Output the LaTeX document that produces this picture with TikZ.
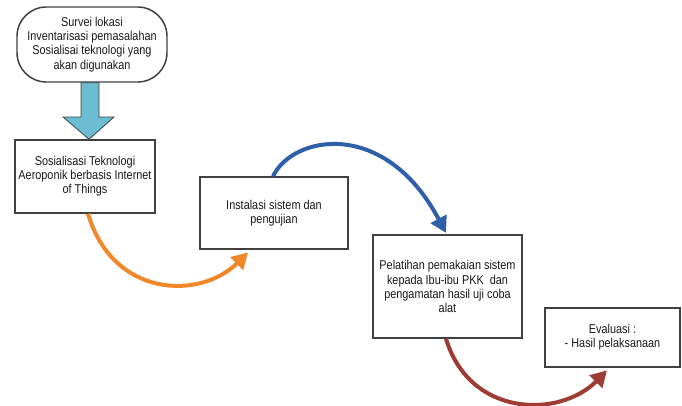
\documentclass[tikz,border=0pt]{standalone}
\usepackage{fontspec}
\setmainfont{Liberation Sans}[FakeStretch=0.85]
\usetikzlibrary{arrows.meta}
\definecolor{boxline}{HTML}{404040}
\definecolor{blockfill}{HTML}{6BBDD2}
\definecolor{orangec}{HTML}{F0882A}
\definecolor{bluec}{HTML}{2F5FA8}
\definecolor{redc}{HTML}{9E3B33}
\tikzset{
  stepbox/.style={draw=boxline,line width=1.1pt,fill=white,align=center,inner sep=0pt,
    font=\fontsize{9.6}{10.6}\selectfont,text=black!90},
  flowarrow/.style={line width=3pt,-{Triangle[length=12pt,width=13pt]}},
}
\begin{document}
\begin{tikzpicture}[x=0.75pt,y=-0.75pt]
\useasboundingbox (0,0) rectangle (682,405);
% nodes
\node[stepbox,rounded corners=22pt,minimum width=150*0.75pt,minimum height=75*0.75pt] (b0) at (92,44.5)
  {Survei lokasi\\Inventarisasi pemasalahan\\Sosialisai teknologi yang\\akan digunakan};
\node[stepbox,minimum width=140*0.75pt,minimum height=73*0.75pt] (b1) at (85,176.5)
  {Sosialisasi Teknologi\\Aeroponik berbasis Internet\\of Things};
\node[stepbox,minimum width=148*0.75pt,minimum height=72*0.75pt] (b2) at (274,213)
  {Instalasi sistem dan\\pengujian};
\node[stepbox,minimum width=149*0.75pt,minimum height=103*0.75pt] (b3) at (447.5,286.5)
  {Pelatihan pemakaian sistem\\kepada Ibu-ibu PKK \ dan\\pengamatan hasil uji coba\\alat};
\node[stepbox,minimum width=135*0.75pt,minimum height=59*0.75pt] (b4) at (612.5,337.5)
  {Evaluasi :\\- Hasil pelaksanaan};
% block arrow
\draw[draw=boxline,line width=0.6pt,fill=blockfill]
  (b0.south -| 81,0) -- (81,117) -- (63,117) -- (b1.north -| 89,0) -- (114,117) -- (99,117) -- (b0.south -| 99,0) -- cycle;
% curved arrows
\coordinate (o1) at (b1.south -| 88,0);
\coordinate (o2) at (b2.south -| 248,0);
\draw[flowarrow,orangec] (o1) .. controls (113,298) and (200,300) .. ([yshift=-2pt]o2);
\coordinate (u1) at (b2.north -| 273,0);
\coordinate (u2) at (b3.north -| 446,0);
\draw[flowarrow,bluec] (u1) .. controls (293,135) and (385,118) .. ([yshift=1pt]u2);
\coordinate (r1) at (b3.south -| 446,0);
\coordinate (r2) at (b4.south -| 607,0);
\draw[flowarrow,redc] (r1) .. controls (470,418) and (560,418) .. ([yshift=-2pt]r2);
\end{tikzpicture}
\end{document}
